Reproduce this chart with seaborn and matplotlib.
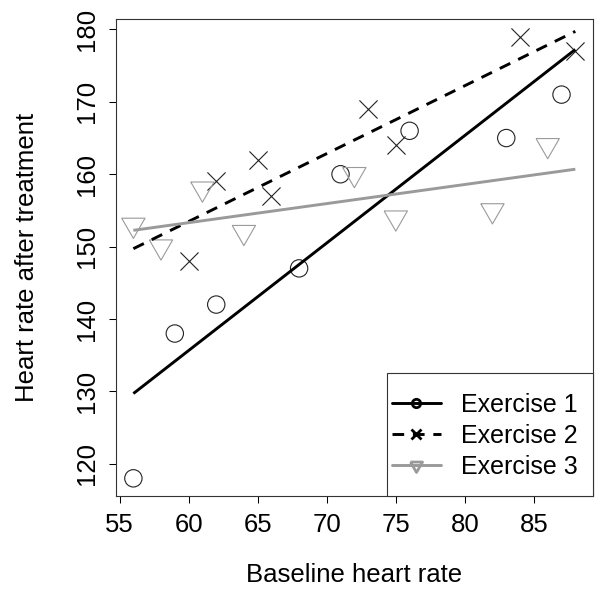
import numpy as np
import pandas as pd
import matplotlib
matplotlib.use("Agg")
import matplotlib.pyplot as plt
from matplotlib.lines import Line2D
from matplotlib.patches import Rectangle
import seaborn as sns

# ---- data ----
ex1_x = [56, 59, 62, 68, 71, 76, 83, 87]
ex1_y = [118, 138, 142, 147, 160, 166, 165, 171]
ex2_x = [60, 62, 65, 66, 73, 75, 84, 88]
ex2_y = [148, 159, 162, 157, 169, 164, 179, 177]
ex3_x = [56, 58, 61, 64, 72, 75, 82, 86]
ex3_y = [153, 150, 158, 152, 160, 154, 155, 164]
series_names = ["Exercise 1", "Exercise 2", "Exercise 3"]
x_ticks = [55, 60, 65, 70, 75, 80, 85]
y_ticks = [120, 130, 140, 150, 160, 170, 180]

sns.set_theme(style="white")
plt.rcParams["font.family"] = ["Liberation Sans", "DejaVu Sans"]
plt.rcParams["text.color"] = "black"
plt.rcParams["axes.labelcolor"] = "black"

fig = plt.figure(figsize=(5.97, 5.89), dpi=100)
ax = fig.add_axes([0.1938, 0.1579, 0.7995, 0.8098])

GRAY = "#9a9a9a"
tri = [(-np.sqrt(3) / 2, 0.5), (np.sqrt(3) / 2, 0.5), (0.0, -1.0), (-np.sqrt(3) / 2, 0.5)]

df1 = pd.DataFrame({"x": ex1_x, "y": ex1_y})
df2 = pd.DataFrame({"x": ex2_x, "y": ex2_y})
df3 = pd.DataFrame({"x": ex3_x, "y": ex3_y})

sns.scatterplot(data=df1, x="x", y="y", marker="o", s=156, facecolors="none",
                edgecolor="#222222", linewidth=0.8, ax=ax, zorder=2)
sns.scatterplot(data=df2, x="x", y="y", marker="x", s=170, color="#222222",
                linewidth=0.8, ax=ax, zorder=2)
sns.scatterplot(data=df3, x="x", y="y", marker=tri, s=376, facecolors="none",
                edgecolor=GRAY, linewidth=0.8, ax=ax, zorder=2)

all_x = ex1_x + ex2_x + ex3_x
xr = np.array([min(all_x), max(all_x)])
styles = [("black", "-"), ("black", (0, (4, 3))), (GRAY, "-")]
for (xs, ys), (c, ls) in zip([(ex1_x, ex1_y), (ex2_x, ex2_y), (ex3_x, ex3_y)], styles):
    b, a = np.polyfit(xs, ys, 1)
    ax.plot(xr, a + b * xr, color=c, linestyle=ls, linewidth=2.1, zorder=3,
            solid_capstyle="butt", dash_capstyle="butt")

ax.set_xlim(54.72, 89.28)
ax.set_ylim(115.56, 181.44)
ax.set_xticks(x_ticks)
ax.set_yticks(y_ticks)
ax.tick_params(axis="both", direction="out", length=5, width=0.75, color="black",
               labelsize=18.5, labelcolor="black", pad=7, bottom=True, left=True)
for lab in ax.get_yticklabels():
    lab.set_rotation(90)
    lab.set_va("center")
for sp in ax.spines.values():
    sp.set_color("#333333")
    sp.set_linewidth(0.8)

ax.set_xlabel("Baseline heart rate", fontsize=18.5, va="center", color="black")
ax.set_ylabel("Heart rate after treatment", fontsize=18.5, va="center", color="black")
ax.xaxis.set_label_coords(0.5, -0.1656)
ax.yaxis.set_label_coords(-0.1858, 0.5)

# legend box
ax.add_patch(Rectangle((0.5678, 0.0), 0.4322, 0.2572, transform=ax.transAxes,
                       facecolor="white", edgecolor="#333333", linewidth=0.8,
                       zorder=4, clip_on=False))
handles = [
    Line2D([], [], color="black", lw=2.1, marker="o", markersize=6,
           markerfacecolor="none", markeredgewidth=2),
    Line2D([], [], color="black", lw=2.1, linestyle=(0, (4, 3)), marker="x",
           markersize=7, markeredgewidth=2),
    Line2D([], [], color=GRAY, lw=2.1, marker=tri, markersize=10,
           markerfacecolor="none", markeredgewidth=2),
]
leg = ax.legend(handles, series_names, loc="center left",
                bbox_to_anchor=(0.5783, 0.1268), frameon=False, fontsize=18,
                borderpad=0, borderaxespad=0, handlelength=1.96,
                handletextpad=0.82, labelspacing=0.28)
leg.set_zorder(5)
for t in leg.get_texts():
    t.set_color("black")

fig.savefig("out.png", dpi=100)
